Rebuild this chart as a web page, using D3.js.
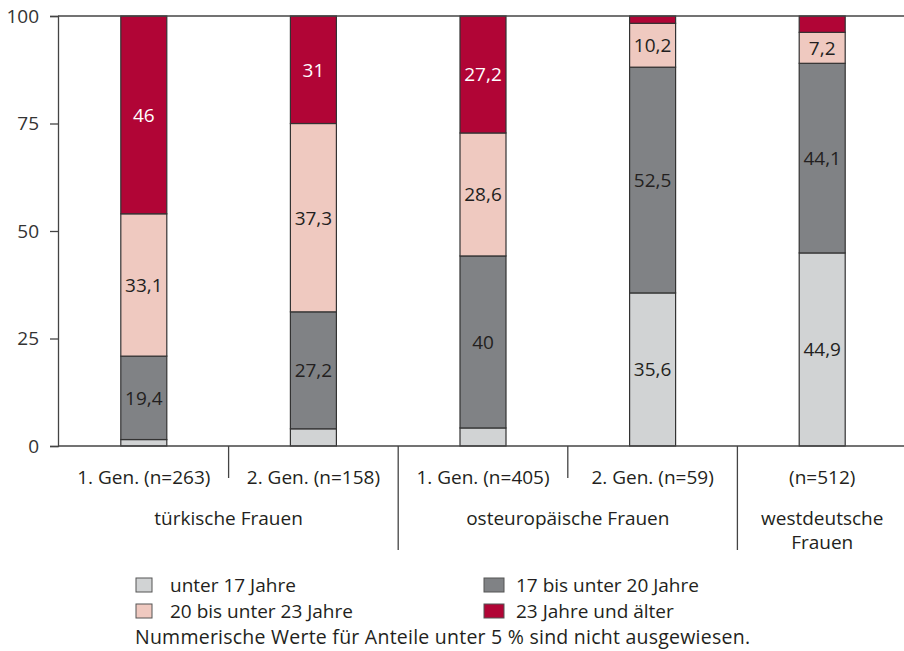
<!DOCTYPE html>
<html lang="de">
<head>
  <meta charset="UTF-8" />
  <title>Alter bei Geburt</title>
  <script src="https://cdn.jsdelivr.net/npm/d3@7"></script>
  <style>
    body { margin: 0; background: #fff; }
    svg text { font-family: "Open Sans", Lato, sans-serif; fill: #231f20; }
  </style>
</head>
<body>
<script>
  // categories
  var groups = ["1. Gen. (n=263)", "2. Gen. (n=158)", "1. Gen. (n=405)", "2. Gen. (n=59)", "(n=512)"];
  var superGroups = ["türkische Frauen", "osteuropäische Frauen", "westdeutsche Frauen"];
  var superSpan = [[0, 1], [2, 3], [4, 4]];
  var seriesNames = ["unter 17 Jahre", "17 bis unter 20 Jahre", "20 bis unter 23 Jahre", "23 Jahre und älter"];
  var colors = ["#d1d3d4", "#808285", "#efc9c0", "#b10536"];

  // segment heights as drawn
  var under17 = [1.5, 4.0, 4.2, 35.6, 44.9];
  var from17to20 = [19.4, 27.2, 40, 52.5, 44.1];
  var from20to23 = [33.1, 43.8, 28.6, 10.2, 7.2];
  var over23 = [46, 25, 27.2, 1.7, 3.8];

  // printed numbers (values under 5 % not shown)
  var under17Labels = ["", "", "", "35,6", "44,9"];
  var from17to20Labels = ["19,4", "27,2", "40", "52,5", "44,1"];
  var from20to23Labels = ["33,1", "37,3", "28,6", "10,2", "7,2"];
  var over23Labels = ["46", "31", "27,2", "", ""];

  var yTicks = [0, 25, 50, 75, 100];
  var note = "Nummerische Werte für Anteile unter 5 % sind nicht ausgewiesen.";

  var w = 904, h = 651;
  var marginLeft = 58, plotTop = 16, plotBottom = 446;

  var allValues = [under17, from17to20, from20to23, over23];
  var allLabels = [under17Labels, from17to20Labels, from20to23Labels, over23Labels];

  var table = groups.map(function(g, i) {
    var row = { group: g };
    seriesNames.forEach(function(s, k) { row[s] = allValues[k][i]; });
    return row;
  });

  var stacked = d3.stack().keys(seriesNames)(table);

  var svg = d3.select("body").append("svg")
    .attr("width", w)
    .attr("height", h);

  var xScale = d3.scaleBand()
    .domain(groups)
    .range([59, 907]);

  var yScale = d3.scaleLinear()
    .domain([0, 100])
    .range([plotBottom, plotTop]);

  var barW = 46;
  function cx(g) { return xScale(g) + xScale.bandwidth() / 2; }

  // bars
  var layer = svg.selectAll("g.layer")
    .data(stacked)
    .enter()
    .append("g")
    .attr("class", "layer")
    .attr("fill", function(d, k) { return colors[k]; });

  layer.selectAll("rect")
    .data(function(d) { return d; })
    .enter()
    .append("rect")
    .attr("x", function(d) { return cx(d.data.group) - barW / 2; })
    .attr("y", function(d) { return yScale(d[1]); })
    .attr("width", barW)
    .attr("height", function(d) { return yScale(d[0]) - yScale(d[1]); })
    .attr("stroke", "#333")
    .attr("stroke-width", 1.2);

  // value labels
  layer.selectAll("text")
    .data(function(d, k) {
      return d.map(function(p, i) { return { p: p, k: k, label: allLabels[k][i] }; });
    })
    .enter()
    .append("text")
    .attr("x", function(d) { return cx(d.p.data.group); })
    .attr("y", function(d) { return yScale((d.p[0] + d.p[1]) / 2); })
    .attr("text-anchor", "middle")
    .attr("dominant-baseline", "central")
    .attr("font-size", 19)
    .style("fill", function(d) { return d.k === 3 ? "#fff" : "#231f20"; })
    .text(function(d) { return d.label; });

  // axis
  var yAxis = d3.axisLeft(yScale)
    .tickValues(yTicks)
    .tickSize(8)
    .tickPadding(11);

  var ax = svg.append("g")
    .attr("transform", "translate(" + marginLeft + ",0)")
    .call(yAxis);
  ax.select(".domain").attr("stroke", "#444").attr("stroke-width", 1.3);
  ax.selectAll(".tick line").attr("stroke", "#444").attr("stroke-width", 1.3);
  ax.selectAll(".tick text")
    .attr("font-size", 19)
    .attr("font-family", "'Open Sans', sans-serif")
    .style("fill", "#333");

  // top frame and baseline
  svg.append("line")
    .attr("x1", marginLeft).attr("x2", w)
    .attr("y1", yScale(100)).attr("y2", yScale(100))
    .attr("stroke", "#444").attr("stroke-width", 1.3);
  svg.append("line")
    .attr("x1", marginLeft).attr("x2", w)
    .attr("y1", yScale(0)).attr("y2", yScale(0))
    .attr("stroke", "#444").attr("stroke-width", 1.3);

  // category labels
  svg.selectAll("text.cat")
    .data(groups)
    .enter()
    .append("text")
    .attr("class", "cat")
    .attr("x", cx)
    .attr("y", 477)
    .attr("text-anchor", "middle")
    .attr("dominant-baseline", "central")
    .attr("font-size", 19)
    .text(function(d) { return d; });

  // separators
  groups.slice(1).forEach(function(g, i) {
    var isGroupEdge = superSpan.some(function(s) { return s[0] === i + 1; });
    svg.append("line")
      .attr("x1", xScale(g)).attr("x2", xScale(g))
      .attr("y1", plotBottom).attr("y2", isGroupEdge ? 550 : 478)
      .attr("stroke", "#444").attr("stroke-width", 1.3);
  });

  superGroups.forEach(function(name, j) {
    var a = cx(groups[superSpan[j][0]]), b = cx(groups[superSpan[j][1]]);
    var t = svg.append("text")
      .attr("x", (a + b) / 2)
      .attr("y", 518)
      .attr("text-anchor", "middle")
      .attr("dominant-baseline", "central")
      .attr("font-size", 19);
    if (superSpan[j][0] === superSpan[j][1]) {
      var words = name.split(" ");
      t.append("tspan").attr("x", (a + b) / 2).text(words[0]);
      t.append("tspan").attr("x", (a + b) / 2).attr("dy", 24).text(words[1]);
    } else {
      t.text(name);
    }
  });

  // legend
  var legX = [136, 484], legY = [585, 611];
  var legend = svg.selectAll("g.leg")
    .data(seriesNames)
    .enter()
    .append("g")
    .attr("class", "leg")
    .attr("transform", function(d, k) {
      var col = k === 0 || k === 2 ? 0 : 1;
      var row = k < 2 ? 0 : 1;
      return "translate(" + legX[col] + "," + legY[row] + ")";
    });

  legend.append("rect")
    .attr("x", 0).attr("y", -7)
    .attr("width", function(d, k) { return k === 1 || k === 3 ? 20 : 16; })
    .attr("height", 14)
    .attr("fill", function(d, k) { return colors[k]; })
    .attr("stroke", "#555");

  legend.append("text")
    .attr("x", function(d, k) { return k === 1 || k === 3 ? 32 : 34; })
    .attr("y", 0)
    .attr("dominant-baseline", "central")
    .attr("font-size", 19)
    .text(function(d) { return d; });

  svg.append("text")
    .attr("x", 135)
    .attr("y", 636)
    .attr("dominant-baseline", "central")
    .attr("font-size", 19.5)
    .attr("textLength", 615)
    .text(note);
</script>
</body>
</html>
